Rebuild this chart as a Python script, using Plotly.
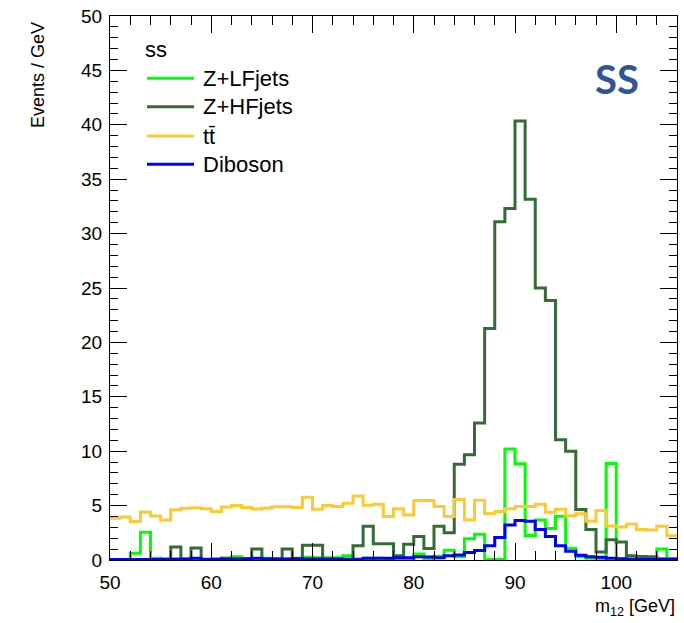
import plotly.graph_objects as go

# ---------------- data (1 GeV bins, low edges 50..105) ----------------
bin_low = list(range(50, 106))
x_max = 106

z_lf = [0.0, 0.0, 0.61, 2.55, 0.15, 0.1, 0.1, 0.1, 0.1, 0.05,
        0.1, 0.15, 0.3, 0.1, 0.1, 0.15, 0.1, 0.1, 0.15, 0.25,
        0.2, 0.2, 0.2, 0.4, 0.1, 0.15, 0.15, 0.1, 0.1, 0.1,
        0.55, 0.1, 0.35, 0.9, 0.3, 1.95, 2.36, 0.05, 0.05, 10.2,
        8.84, 2.25, 3.68, 2.9, 4.02, 1.07, 0.3, 0.15, 0.08, 8.87,
        0.1, 0.1, 0.1, 0.1, 1.0, 0.1]

z_hf = [0.0, 0.0, 0.0, 0.0, 0.0, 0.05, 1.2, 0.05, 1.1, 0.05,
        0.05, 0.15, 0.1, 0.1, 1.0, 0.1, 0.1, 1.0, 0.1, 1.35,
        1.35, 0.05, 0.05, 0.1, 1.3, 3.1, 1.5, 1.5, 0.4, 1.45,
        2.15, 1.05, 3.1, 2.5, 8.8, 9.67, 12.6, 21.27, 31.1, 32.3,
        40.36, 33.15, 25.0, 23.85, 11.05, 10.0, 4.65, 2.8, 0.74, 1.87,
        1.66, 0.38, 0.33, 0.3, 0.12, 0.12]

ttbar = [3.84, 3.95, 3.55, 4.42, 4.05, 3.68, 4.62, 4.76, 4.8, 4.7,
         4.45, 4.88, 5.0, 4.82, 4.68, 4.78, 4.9, 4.9, 4.82, 5.77,
         4.67, 5.02, 4.91, 5.22, 5.89, 5.03, 5.12, 3.99, 4.72, 4.14,
         5.46, 5.46, 4.91, 4.0, 5.57, 3.7, 5.5, 4.27, 4.45, 4.72,
         4.91, 4.91, 5.13, 4.4, 4.67, 4.07, 4.25, 3.56, 4.54, 3.12,
         3.03, 3.31, 2.8, 2.76, 3.1, 2.22]

diboson = [0.05, 0.05, 0.05, 0.05, 0.05, 0.08, 0.08, 0.1, 0.15, 0.08,
           0.08, 0.08, 0.1, 0.12, 0.15, 0.1, 0.1, 0.1, 0.12, 0.1,
           0.1, 0.1, 0.1, 0.05, 0.05, 0.15, 0.15, 0.15, 0.2, 0.2,
           0.3, 0.28, 0.2, 0.4, 0.45, 0.7, 0.88, 1.3, 2.07, 3.22,
           3.62, 3.56, 2.8, 2.15, 1.3, 0.8, 0.43, 0.31, 0.25, 0.15,
           0.12, 0.06, 0.05, 0.05, 0.05, 0.05]

series_names = ["Z+LFjets", "Z+HFjets", "tt\u0304", "Diboson"]
series_vals = [z_lf, z_hf, ttbar, diboson]
series_colors = ["#00ff00", "#356b35", "#ffc933", "#0000ff"]

legend_header = "ss"
corner_label = "SS"
x_title = "m<sub>12</sub> [GeV]"
y_title = "Events / GeV"

# ---------------- layout geometry ----------------
W, H = 684, 623
ML, MR, MT, MB = 110, 7, 16, 63
PW, PH = W - ML - MR, H - MT - MB
FONT = "Liberation Sans, Arial, sans-serif"


def px(xp):
    return (xp - ML) / PW


def py(yp):
    return (H - MB - yp) / PH


fig = go.Figure()
for name, vals, col in zip(series_names, series_vals, series_colors):
    fig.add_trace(go.Scatter(
        x=bin_low + [x_max], y=vals + [vals[-1]],
        mode="lines", line=dict(shape="hv", color=col, width=3),
        name=name, showlegend=False, hoverinfo="skip"))

# manual legend (ROOT style)
annotations = [dict(text=legend_header, x=px(143), y=py(49), xref="paper", yref="paper",
                    xanchor="left", yanchor="middle", showarrow=False,
                    font=dict(family=FONT, size=22, color="black"))]
shapes = []
leg_y = [78.3, 106.7, 136, 164.3]
for name, col, yy in zip(series_names, series_colors, leg_y):
    shapes.append(dict(type="line", xref="paper", yref="paper",
                       x0=px(147), x1=px(194), y0=py(yy), y1=py(yy),
                       line=dict(color=col, width=3)))
    annotations.append(dict(text=name, x=px(201), y=py(yy), xref="paper", yref="paper",
                            xanchor="left", yanchor="middle", showarrow=False,
                            font=dict(family=FONT, size=22, color="black")))

annotations.append(dict(text="<b>" + corner_label + "</b>", x=px(617), y=py(79),
                        xref="paper", yref="paper", xanchor="center", yanchor="middle",
                        showarrow=False, font=dict(family="Lato, Open Sans, sans-serif",
                                                   size=40, color="#2f5597")))
annotations.append(dict(text=x_title, x=1.0, y=py(607), xref="paper", yref="paper",
                        xanchor="right", yanchor="middle", showarrow=False,
                        font=dict(family=FONT, size=18, color="black")))
annotations.append(dict(text=y_title, x=px(38), y=py(75), xref="paper", yref="paper",
                        xanchor="center", yanchor="middle", showarrow=False, textangle=-90,
                        font=dict(family=FONT, size=18, color="black")))

fig.update_layout(
    width=W, height=H,
    margin=dict(l=ML, r=MR, t=MT, b=MB, pad=0),
    paper_bgcolor="white", plot_bgcolor="white",
    showlegend=False,
    annotations=annotations, shapes=shapes,
    font=dict(family=FONT, size=19, color="black"),
)
fig.update_xaxes(
    range=[50, x_max], tick0=50, dtick=10, ticks="inside", ticklen=17, tickwidth=1,
    tickcolor="black", showline=True, linecolor="black", linewidth=1, mirror="allticks",
    showgrid=False, zeroline=False, tickfont=dict(family=FONT, size=19, color="black"),
    ticklabelstandoff=5,
    minor=dict(ticks="inside", ticklen=9, dtick=2, tick0=50, tickcolor="black", showgrid=False),
)
fig.update_yaxes(
    range=[0, 50], tick0=0, dtick=5, ticks="inside", ticklen=17, tickwidth=1,
    tickcolor="black", showline=True, linecolor="black", linewidth=1, mirror="allticks",
    showgrid=False, zeroline=False, tickfont=dict(family=FONT, size=19, color="black"),
    ticklabelstandoff=3,
    minor=dict(ticks="inside", ticklen=8, dtick=1, tick0=0, tickcolor="black", showgrid=False),
)

fig.write_html("out.html")
